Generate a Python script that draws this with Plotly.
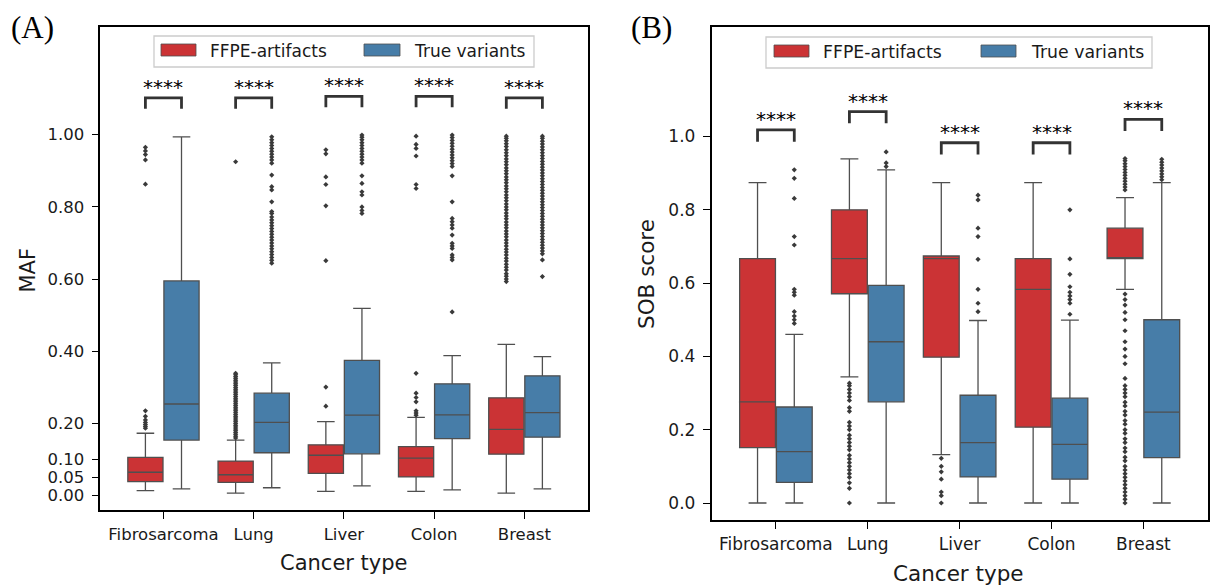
import plotly.graph_objects as go

W, H = 1214, 585

categories = ["Fibrosarcoma", "Lung", "Liver", "Colon", "Breast"]
groups = ["FFPE-artifacts", "True variants"]

# ---------------- Panel A: MAF ----------------
maf_ffpe_lower = [0.014, 0.007, 0.012, 0.012, 0.007]
maf_ffpe_q1 = [0.039, 0.037, 0.062, 0.052, 0.115]
maf_ffpe_median = [0.065, 0.058, 0.112, 0.104, 0.184]
maf_ffpe_q3 = [0.106, 0.096, 0.141, 0.136, 0.271]
maf_ffpe_upper = [0.173, 0.154, 0.205, 0.217, 0.419]

maf_true_lower = [0.019, 0.022, 0.027, 0.016, 0.019]
maf_true_q1 = [0.154, 0.119, 0.116, 0.158, 0.162]
maf_true_median = [0.254, 0.203, 0.223, 0.224, 0.230]
maf_true_q3 = [0.595, 0.284, 0.375, 0.310, 0.332]
maf_true_upper = [0.994, 0.368, 0.519, 0.388, 0.385]

maf_ffpe_outliers = [
    [0.187, 0.192, 0.197, 0.203, 0.210, 0.220, 0.235, 0.863, 0.930, 0.945, 0.955, 0.965],
    [0.160, 0.165, 0.170, 0.175, 0.180, 0.185, 0.190, 0.195, 0.200, 0.205, 0.210, 0.215,
     0.220, 0.225, 0.230, 0.235, 0.240, 0.245, 0.250, 0.255, 0.260, 0.265, 0.270, 0.275,
     0.280, 0.285, 0.290, 0.295, 0.300, 0.305, 0.310, 0.315, 0.320, 0.325, 0.330, 0.335,
     0.339, 0.925],
    [0.248, 0.301, 0.651, 0.803, 0.862, 0.883, 0.947, 0.958],
    [0.223, 0.229, 0.235, 0.260, 0.272, 0.284, 0.339, 0.851, 0.862, 0.941, 0.962, 0.973, 0.996],
    [0.593, 0.600, 0.608, 0.615, 0.625, 0.633, 0.641, 0.650, 0.658, 0.667, 0.675, 0.683,
     0.692, 0.700, 0.708, 0.717, 0.725, 0.733, 0.742, 0.750, 0.758, 0.767, 0.775, 0.783,
     0.792, 0.800, 0.808, 0.817, 0.825, 0.833, 0.842, 0.850, 0.858, 0.867, 0.875, 0.883,
     0.892, 0.900, 0.908, 0.917, 0.925, 0.933, 0.942, 0.950, 0.958, 0.967, 0.975, 0.983,
     0.990, 0.996],
]
maf_true_outliers = [
    [],
    [0.644, 0.652, 0.660, 0.668, 0.676, 0.684, 0.692, 0.700, 0.708, 0.716, 0.724, 0.732,
     0.740, 0.748, 0.756, 0.764, 0.772, 0.782, 0.787, 0.814, 0.847, 0.856, 0.888, 0.921,
     0.930, 0.938, 0.946, 0.954, 0.962, 0.970, 0.978, 0.986, 0.994],
    [0.782, 0.790, 0.800, 0.833, 0.842, 0.865, 0.886, 0.921, 0.930, 0.938, 0.946, 0.954,
     0.962, 0.970, 0.978, 0.986, 0.993, 0.999],
    [0.509, 0.653, 0.660, 0.667, 0.685, 0.692, 0.699, 0.722, 0.741, 0.750, 0.759, 0.768,
     0.814, 0.886, 0.912, 0.920, 0.928, 0.936, 0.944, 0.952, 0.960, 0.968, 0.976, 0.984,
     0.992, 0.999],
    [0.607, 0.653, 0.670, 0.678, 0.686, 0.694, 0.702, 0.710, 0.718, 0.726, 0.734, 0.742,
     0.750, 0.758, 0.766, 0.774, 0.782, 0.790, 0.798, 0.806, 0.814, 0.822, 0.830, 0.838,
     0.846, 0.854, 0.862, 0.870, 0.878, 0.886, 0.894, 0.902, 0.910, 0.918, 0.926, 0.934,
     0.942, 0.950, 0.958, 0.966, 0.974, 0.982, 0.990, 0.996],
]
maf_bracket_top = [1.102, 1.102, 1.106, 1.106, 1.102]
maf_ticks = [0.0, 0.05, 0.10, 0.20, 0.40, 0.60, 0.80, 1.00]

# ---------------- Panel B: SOB score ----------------
sob_ffpe_lower = [0.0, 0.344, 0.132, 0.0, 0.583]
sob_ffpe_q1 = [0.151, 0.571, 0.398, 0.207, 0.667]
sob_ffpe_median = [0.276, 0.667, 0.667, 0.583, 0.667]
sob_ffpe_q3 = [0.667, 0.800, 0.674, 0.667, 0.750]
sob_ffpe_upper = [0.874, 0.939, 0.874, 0.874, 0.833]

sob_true_lower = [0.0, 0.0, 0.0, 0.0, 0.0]
sob_true_q1 = [0.056, 0.276, 0.071, 0.065, 0.124]
sob_true_median = [0.140, 0.440, 0.165, 0.160, 0.248]
sob_true_q3 = [0.262, 0.594, 0.294, 0.286, 0.500]
sob_true_upper = [0.460, 0.909, 0.498, 0.499, 0.874]

sob_ffpe_outliers = [
    [],
    [0.000, 0.040, 0.055, 0.070, 0.080, 0.090, 0.100, 0.110, 0.120, 0.130, 0.145, 0.155,
     0.165, 0.175, 0.185, 0.200, 0.210, 0.220, 0.250, 0.260, 0.280, 0.290, 0.300, 0.310,
     0.320, 0.327],
    [0.000, 0.020, 0.030, 0.065, 0.085, 0.100, 0.122],
    [],
    [0.000, 0.010, 0.020, 0.030, 0.040, 0.050, 0.060, 0.070, 0.080, 0.090, 0.100, 0.115,
     0.125, 0.140, 0.150, 0.165, 0.175, 0.190, 0.200, 0.215, 0.225, 0.240, 0.250, 0.265,
     0.275, 0.290, 0.300, 0.310, 0.320, 0.340, 0.380, 0.400, 0.420, 0.440, 0.470, 0.500,
     0.520, 0.540, 0.555, 0.570, 0.854, 0.862, 0.870, 0.878, 0.886, 0.894, 0.902, 0.910,
     0.918, 0.926, 0.934, 0.940],
]
sob_true_outliers = [
    [0.490, 0.500, 0.510, 0.522, 0.567, 0.575, 0.583, 0.704, 0.727, 0.831, 0.886, 0.909],
    [0.918, 0.928, 0.958],
    [0.522, 0.545, 0.583, 0.665, 0.727, 0.750, 0.827, 0.840],
    [0.515, 0.545, 0.555, 0.565, 0.575, 0.590, 0.624, 0.666, 0.800],
    [0.882, 0.890, 0.898, 0.906, 0.914, 0.922, 0.930, 0.938],
]
sob_bracket_top = [1.018, 1.068, 0.983, 0.983, 1.047]
sob_ticks = [0.0, 0.2, 0.4, 0.6, 0.8, 1.0]

# ---------------- Style ----------------
RED = "#cb3335"
BLUE = "#477da8"
EDGE = "#4f4f4f"
FONT = "DejaVu Sans"
OFF = 0.2
BOXW = 0.39


def px(x):
    return x / W


def py(y):
    return 1 - y / H


fig = go.Figure()
shapes = []
annotations = []


def add_panel(xa, ya, ffpe, true, ffpe_out, true_out, bracket_top, bracket_h):
    xref = "x" if xa == "x" else "x2"
    yref = "y" if ya == "y" else "y2"
    for stats, outs, off, color, name in [(ffpe, ffpe_out, -OFF, RED, groups[0]),
                                          (true, true_out, OFF, BLUE, groups[1])]:
        lower, q1, med, q3, upper = stats
        fig.add_trace(go.Box(
            x=[i + off for i in range(len(categories))],
            q1=q1, median=med, q3=q3, lowerfence=lower, upperfence=upper,
            width=BOXW, whiskerwidth=0.5, fillcolor=color,
            line=dict(color=EDGE, width=1.3), boxpoints=False,
            name=name, showlegend=False, hoverinfo="skip",
            xaxis=xa, yaxis=ya))
        ox, oy = [], []
        for i, vals in enumerate(outs):
            ox += [i + off] * len(vals)
            oy += vals
        fig.add_trace(go.Scatter(
            x=ox, y=oy, mode="markers",
            marker=dict(symbol="diamond", size=4, color="#3a3a3a", line=dict(width=0)),
            showlegend=False, hoverinfo="skip", xaxis=xa, yaxis=ya))
    for i, top in enumerate(bracket_top):
        x0, x1 = i - OFF, i + OFF
        shapes.append(dict(
            type="path", xref=xref, yref=yref,
            path=f"M {x0},{top - bracket_h} L {x0},{top} L {x1},{top} L {x1},{top - bracket_h}",
            line=dict(color="#333333", width=2.8)))
        annotations.append(dict(
            x=i, y=top, xref=xref, yref=yref, text="****", showarrow=False,
            yanchor="bottom", yshift=-3, font=dict(family=FONT, size=20, color="black")))


add_panel("x", "y",
          (maf_ffpe_lower, maf_ffpe_q1, maf_ffpe_median, maf_ffpe_q3, maf_ffpe_upper),
          (maf_true_lower, maf_true_q1, maf_true_median, maf_true_q3, maf_true_upper),
          maf_ffpe_outliers, maf_true_outliers, maf_bracket_top, 0.030)
add_panel("x2", "y2",
          (sob_ffpe_lower, sob_ffpe_q1, sob_ffpe_median, sob_ffpe_q3, sob_ffpe_upper),
          (sob_true_lower, sob_true_q1, sob_true_median, sob_true_q3, sob_true_upper),
          sob_ffpe_outliers, sob_true_outliers, sob_bracket_top, 0.032)


# ---------------- Legends (manual) ----------------
def legend(x0, x1, y0, y1, sw_red, sw_blue, tx_red, tx_blue, fs):
    shapes.append(dict(type="rect", xref="paper", yref="paper",
                       x0=px(x0), x1=px(x1), y0=py(y1), y1=py(y0),
                       line=dict(color="#cccccc", width=1.3), fillcolor="white"))
    for (a, b), col in [(sw_red, RED), (sw_blue, BLUE)]:
        shapes.append(dict(type="rect", xref="paper", yref="paper",
                           x0=px(a), x1=px(b), y0=py(y0 + 20), y1=py(y0 + 8),
                           line=dict(color=EDGE, width=0.8), fillcolor=col))
    for tx, label in [(tx_red, groups[0]), (tx_blue, groups[1])]:
        annotations.append(dict(x=px(tx), y=py(y0 + 14.5), xref="paper", yref="paper",
                                text=label, showarrow=False, xanchor="left", yanchor="middle",
                                font=dict(family=FONT, size=fs, color="#1a1a1a")))


legend(154, 534, 36, 67, (161, 196), (364, 400), 208, 412, 17)
legend(766, 1152, 37, 68, (774, 809), (981, 1016), 821, 1029, 17.3)

# ---------------- Axis titles & panel labels ----------------
annotations += [
    dict(x=px(343.9), y=py(563), xref="paper", yref="paper", text="Cancer type",
         showarrow=False, xanchor="center", yanchor="middle",
         font=dict(family=FONT, size=21, color="#1a1a1a")),
    dict(x=px(958), y=py(573), xref="paper", yref="paper", text="Cancer type",
         showarrow=False, xanchor="center", yanchor="middle",
         font=dict(family=FONT, size=21.5, color="#1a1a1a")),
    dict(x=px(27.5), y=py(270), xref="paper", yref="paper", text="MAF", textangle=-90,
         showarrow=False, xanchor="center", yanchor="middle",
         font=dict(family=FONT, size=21, color="#1a1a1a")),
    dict(x=px(646), y=py(274), xref="paper", yref="paper", text="SOB score", textangle=-90,
         showarrow=False, xanchor="center", yanchor="middle",
         font=dict(family=FONT, size=21.5, color="#1a1a1a")),
    dict(x=px(32.5), y=py(27), xref="paper", yref="paper", text="(A)",
         showarrow=False, xanchor="center", yanchor="middle",
         font=dict(family="Liberation Serif", size=31, color="black")),
    dict(x=px(651), y=py(27), xref="paper", yref="paper", text="(B)",
         showarrow=False, xanchor="center", yanchor="middle",
         font=dict(family="Liberation Serif", size=31, color="black")),
]

axis_common = dict(showline=True, mirror=True, linecolor="black", linewidth=1.6,
                   ticks="outside", ticklen=7, tickwidth=1.4, tickcolor="black",
                   showgrid=False, zeroline=False)

fig.update_layout(
    width=W, height=H, margin=dict(l=0, r=0, t=0, b=0),
    paper_bgcolor="white", plot_bgcolor="white", boxmode="overlay",
    showlegend=False,
    xaxis=dict(domain=[px(100.3), px(587.5)], range=[-0.7, 4.7], anchor="y",
               tickvals=list(range(len(categories))), ticktext=categories,
               ticklabelstandoff=1,
               tickfont=dict(family=FONT, size=16.5, color="#1a1a1a"), **axis_common),
    yaxis=dict(domain=[py(510), py(27)], range=[-0.0396, 1.2983], anchor="x",
               tickvals=maf_ticks, tickformat=".2f", ticklabelstandoff=4,
               tickfont=dict(family=FONT, size=16.5, color="#1a1a1a"), **axis_common),
    xaxis2=dict(domain=[px(711.6), px(1207.7)], range=[-0.7, 4.7], anchor="y2",
                tickvals=list(range(len(categories))), ticktext=categories,
                ticklabelstandoff=1,
                tickfont=dict(family=FONT, size=17, color="#1a1a1a"), **axis_common),
    yaxis2=dict(domain=[py(520), py(27.3)], range=[-0.0464, 1.298], anchor="x2",
                tickvals=sob_ticks, tickformat=".1f", ticklabelstandoff=4,
                tickfont=dict(family=FONT, size=17, color="#1a1a1a"), **axis_common),
    shapes=shapes,
    annotations=annotations,
)

fig.write_html("out.html")
